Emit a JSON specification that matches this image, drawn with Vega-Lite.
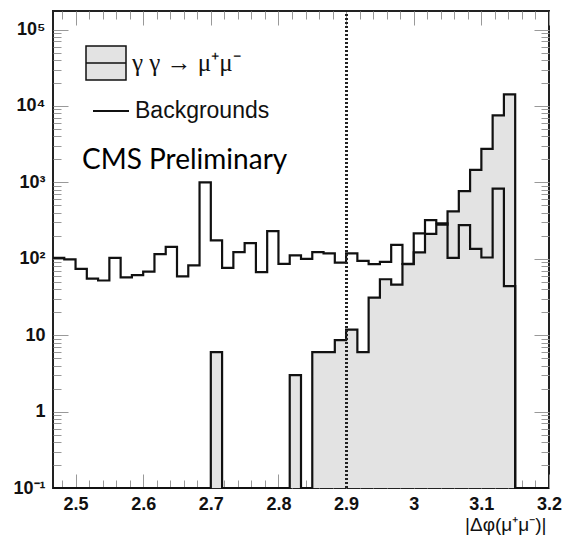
{
  "$schema": "https://vega.github.io/schema/vega-lite/v6.json",
  "width": 496,
  "height": 477,
  "autosize": {"type": "none"},
  "padding": {"left": 53, "top": 11, "right": 16, "bottom": 50},
  "background": "white",
  "data": {"values": [
    {"lo":2.46667,"hi":2.48333,"bkg":103,"sig":0.1},
    {"lo":2.48333,"hi":2.5,"bkg":98,"sig":0.1},
    {"lo":2.5,"hi":2.51667,"bkg":74,"sig":0.1},
    {"lo":2.51667,"hi":2.53333,"bkg":55,"sig":0.1},
    {"lo":2.53333,"hi":2.55,"bkg":52,"sig":0.1},
    {"lo":2.55,"hi":2.56667,"bkg":103,"sig":0.1},
    {"lo":2.56667,"hi":2.58333,"bkg":57,"sig":0.1},
    {"lo":2.58333,"hi":2.6,"bkg":61,"sig":0.1},
    {"lo":2.6,"hi":2.61667,"bkg":68,"sig":0.1},
    {"lo":2.61667,"hi":2.63333,"bkg":115,"sig":0.1},
    {"lo":2.63333,"hi":2.65,"bkg":143,"sig":0.1},
    {"lo":2.65,"hi":2.66667,"bkg":59,"sig":0.1},
    {"lo":2.66667,"hi":2.68333,"bkg":82,"sig":0.1},
    {"lo":2.68333,"hi":2.7,"bkg":1000,"sig":0.1},
    {"lo":2.7,"hi":2.71667,"bkg":174,"sig":6},
    {"lo":2.71667,"hi":2.73333,"bkg":76,"sig":0.1},
    {"lo":2.73333,"hi":2.75,"bkg":122,"sig":0.1},
    {"lo":2.75,"hi":2.76667,"bkg":160,"sig":0.1},
    {"lo":2.76667,"hi":2.78333,"bkg":67,"sig":0.1},
    {"lo":2.78333,"hi":2.8,"bkg":230,"sig":0.1},
    {"lo":2.8,"hi":2.81667,"bkg":86,"sig":0.1},
    {"lo":2.81667,"hi":2.83333,"bkg":111,"sig":3},
    {"lo":2.83333,"hi":2.85,"bkg":100,"sig":0.1},
    {"lo":2.85,"hi":2.86667,"bkg":122,"sig":6},
    {"lo":2.86667,"hi":2.88333,"bkg":118,"sig":6},
    {"lo":2.88333,"hi":2.9,"bkg":89,"sig":8.6},
    {"lo":2.9,"hi":2.91667,"bkg":118,"sig":11.8},
    {"lo":2.91667,"hi":2.93333,"bkg":94,"sig":6},
    {"lo":2.93333,"hi":2.95,"bkg":85,"sig":31},
    {"lo":2.95,"hi":2.96667,"bkg":91,"sig":54},
    {"lo":2.96667,"hi":2.98333,"bkg":152,"sig":46},
    {"lo":2.98333,"hi":3.0,"bkg":86,"sig":85},
    {"lo":3.0,"hi":3.01667,"bkg":215,"sig":121},
    {"lo":3.01667,"hi":3.03333,"bkg":320,"sig":212},
    {"lo":3.03333,"hi":3.05,"bkg":292,"sig":280},
    {"lo":3.05,"hi":3.06667,"bkg":103,"sig":417},
    {"lo":3.06667,"hi":3.08333,"bkg":276,"sig":769},
    {"lo":3.08333,"hi":3.1,"bkg":135,"sig":1460},
    {"lo":3.1,"hi":3.11667,"bkg":104,"sig":2750},
    {"lo":3.11667,"hi":3.13333,"bkg":830,"sig":7540},
    {"lo":3.13333,"hi":3.15,"bkg":44,"sig":14200},
    {"lo":3.15,"hi":3.16667,"bkg":0.1,"sig":0.1},
    {"lo":3.16667,"hi":3.18333,"bkg":0.1,"sig":0.1},
    {"lo":3.18333,"hi":3.2,"bkg":0.1,"sig":0.1},
    {"lo":3.2,"hi":3.2,"bkg":0.1,"sig":0.1}
  ]},
  "layer": [
    {
      "mark": {"type": "area", "interpolate": "step-after"},
      "encoding": {
        "x": {"field": "lo", "type": "quantitative",
              "scale": {"domain": [2.46667, 3.2], "nice": false, "zero": false},
              "axis": {"orient": "bottom", "values": [2.5,2.6,2.7,2.8,2.9,3,3.1,3.2], "format": "~g", "tickSize": -14, "labelPadding": 21,
                       "title": "|Δφ(μ⁺μ⁻)|", "titleFont": "Liberation Sans", "titleFontSize": 19, "titleFontWeight": "normal", "titleColor": "#111",
                       "titleX": 493, "titleY": 42, "titleAlign": "right", "titleBaseline": "alphabetic"}},
        "y": {"field": "sig", "type": "quantitative",
              "scale": {"type": "log", "domain": [0.1, 175000], "nice": false},
              "axis": {"orient": "left", "values": [0.1,1,10,100,1000,10000,100000], "tickSize": -15, "labelPadding": 23, "title": null,
                       "labelExpr": "datum.value < 0.5 ? '10⁻¹' : datum.value < 5 ? '1' : datum.value < 50 ? '10' : datum.value < 500 ? '10²' : datum.value < 5000 ? '10³' : datum.value < 50000 ? '10⁴' : '10⁵'"}},
        "y2": {"datum": 0.1},
        "fill": {"datum": "sig", "type": "nominal",
                 "scale": {"domain": ["sig"], "range": ["#e3e3e3"]},
                 "legend": {
                   "orient": "none", "legendX": 29, "legendY": 31, "padding": 0, "title": null,
                   "symbolType": "M-0.85,-0.85H1.15V0.85H-0.85Z M-0.85,0H1.15", "symbolSize": 1600,
                   "symbolStrokeColor": "#111", "symbolStrokeWidth": 1.5,
                   "labelFont": "Liberation Serif", "labelFontSize": 25, "labelColor": "#111", "labelOffset": 8, "labelLimit": 300,
                   "labelExpr": "'γ γ → μ⁺μ⁻'"
                 }}
      }
    },
    {
      "mark": {"type": "line", "interpolate": "step-after", "strokeWidth": 2.2},
      "encoding": {
        "x": {"field": "lo", "type": "quantitative",
              "scale": {"domain": [2.46667, 3.2], "nice": false, "zero": false},
              "axis": {"orient": "bottom", "values": [2.48,2.52,2.54,2.56,2.58,2.62,2.64,2.66,2.68,2.72,2.74,2.76,2.78,2.82,2.84,2.86,2.88,2.92,2.94,2.96,2.98,3.02,3.04,3.06,3.08,3.12,3.14,3.16,3.18],
                       "labels": false, "tickSize": -8, "title": null}},
        "y": {"field": "bkg", "type": "quantitative",
              "scale": {"type": "log", "domain": [0.1, 175000], "nice": false},
              "axis": {"orient": "left", "values": [0.2,0.3,0.4,0.5,0.6,0.7,0.8,0.9,2,3,4,5,6,7,8,9,20,30,40,50,60,70,80,90,200,300,400,500,600,700,800,900,2000,3000,4000,5000,6000,7000,8000,9000,20000,30000,40000,50000,60000,70000,80000,90000],
                       "labels": false, "tickSize": -8, "title": null}},
        "stroke": {"datum": "bkg", "type": "nominal",
                   "scale": {"domain": ["bkg"], "range": ["#111"]},
                   "legend": {
                     "orient": "none", "legendX": 29, "legendY": 79, "padding": 0,
                     "title": "CMS Preliminary", "titleOrient": "bottom", "titleAnchor": "start", "titleLimit": 400,
                     "titleFont": "Lato", "titleFontSize": 28, "titleFontWeight": "normal", "titleColor": "#000", "titlePadding": 24,
                     "symbolType": "M-0.5,0H1.3", "symbolSize": 1600, "symbolStrokeWidth": 2,
                     "labelFont": "Liberation Sans", "labelFontSize": 23, "labelColor": "#111", "labelOffset": 11, "labelLimit": 300,
                     "labelExpr": "'Backgrounds'"
                   }}
      }
    },
    {
      "mark": {"type": "line", "interpolate": "step-after", "strokeWidth": 2.2, "color": "#111"},
      "encoding": {
        "x": {"field": "lo", "type": "quantitative",
              "scale": {"domain": [2.46667, 3.2], "nice": false, "zero": false},
              "axis": {"orient": "top", "values": [2.5,2.6,2.7,2.8,2.9,3,3.1,3.2], "labels": false, "tickSize": -14, "title": null}},
        "y": {"field": "sig", "type": "quantitative",
              "scale": {"type": "log", "domain": [0.1, 175000], "nice": false},
              "axis": {"orient": "right", "values": [0.1,1,10,100,1000,10000,100000], "labels": false, "tickSize": -15, "title": null}}
      }
    },
    {
      "mark": {"type": "rule", "strokeDash": [2, 2], "strokeWidth": 2, "color": "#222"},
      "encoding": {
        "x": {"datum": 2.9, "type": "quantitative",
              "scale": {"domain": [2.46667, 3.2], "nice": false, "zero": false},
              "axis": {"orient": "top", "values": [2.48,2.52,2.54,2.56,2.58,2.62,2.64,2.66,2.68,2.72,2.74,2.76,2.78,2.82,2.84,2.86,2.88,2.92,2.94,2.96,2.98,3.02,3.04,3.06,3.08,3.12,3.14,3.16,3.18],
                       "labels": false, "tickSize": -8, "title": null}},
        "y": {"datum": 0.1, "type": "quantitative",
              "scale": {"type": "log", "domain": [0.1, 175000], "nice": false},
              "axis": {"orient": "right", "values": [0.2,0.3,0.4,0.5,0.6,0.7,0.8,0.9,2,3,4,5,6,7,8,9,20,30,40,50,60,70,80,90,200,300,400,500,600,700,800,900,2000,3000,4000,5000,6000,7000,8000,9000,20000,30000,40000,50000,60000,70000,80000,90000],
                       "labels": false, "tickSize": -8, "title": null}},
        "y2": {"datum": 175000}
      }
    }
  ],
  "resolve": {"axis": {"x": "independent", "y": "independent"}},
  "config": {
    "view": {"stroke": "#222", "strokeWidth": 2},
    "axis": {"tickColor": "#999", "tickWidth": 1, "domain": false, "grid": false, "zindex": 1,
             "labelFont": "Liberation Sans", "labelFontWeight": "bold", "labelFontSize": 18, "labelColor": "#111",
             "labelFlush": false, "labelOverlap": false, "labelBound": false}
  }
}
